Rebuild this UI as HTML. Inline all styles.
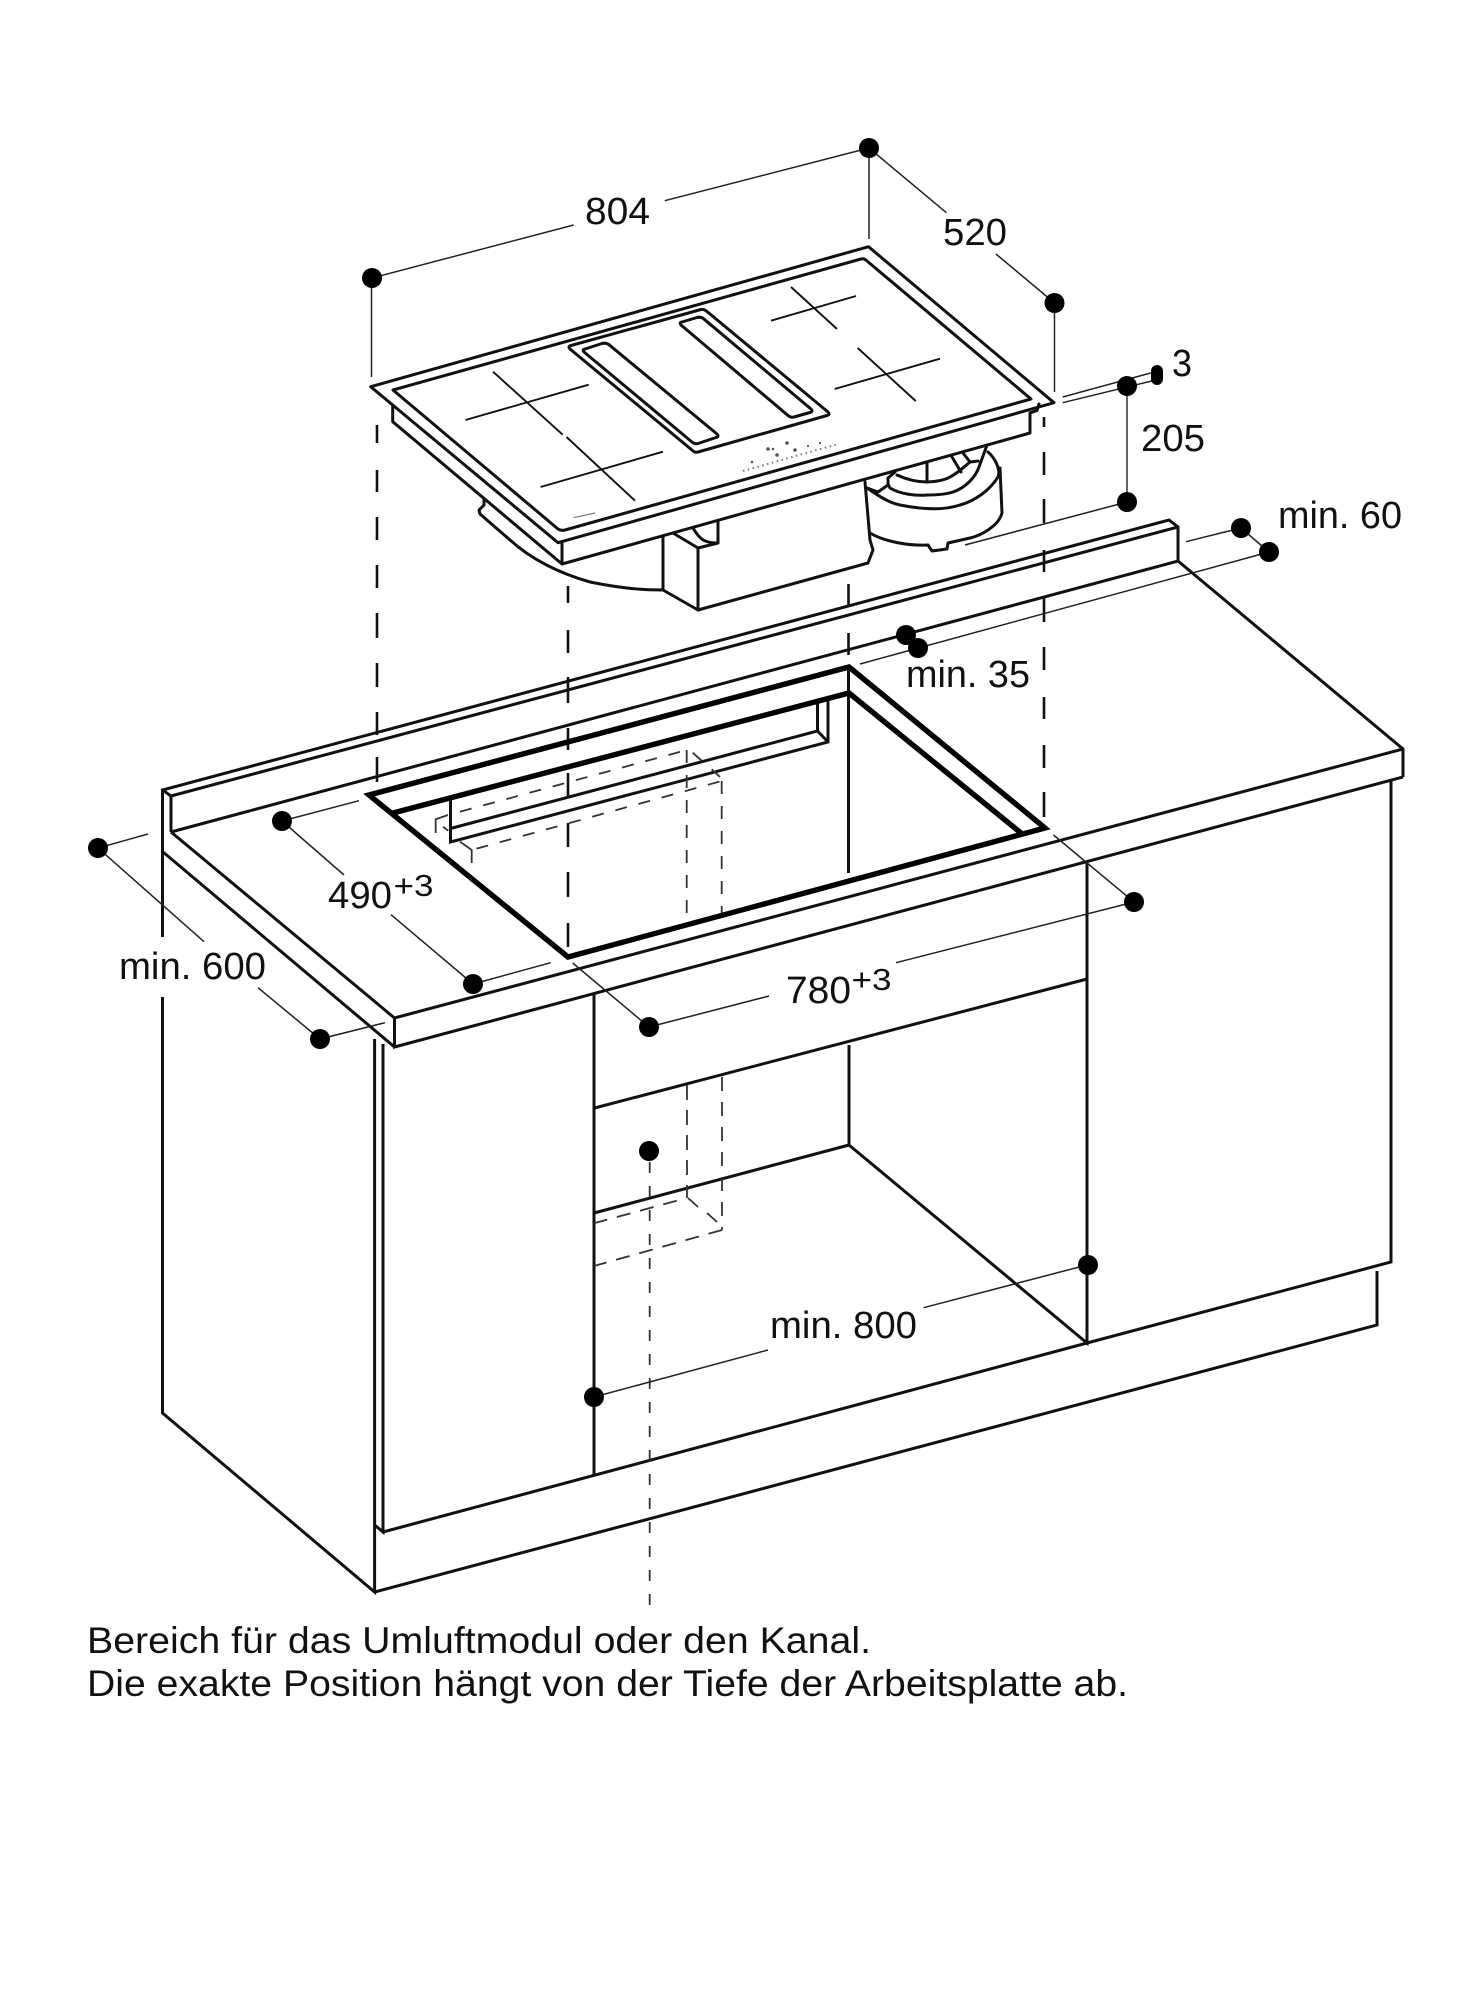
<!DOCTYPE html>
<html lang="de">
<head>
<meta charset="utf-8">
<title>Einbauzeichnung</title>
<style>
html,body{margin:0;padding:0;background:#fff;}
svg{display:block;}
text{font-family:"Liberation Sans",sans-serif;fill:#111;}
</style>
</head>
<body>
<svg xmlns="http://www.w3.org/2000/svg" width="1464" height="2000" viewBox="0 0 1464 2000">
<rect width="1464" height="2000" fill="#fff"/>

<!-- long dashed alignment lines -->
<g fill="none" stroke="#111" stroke-width="2.6">
<path d="M377 425V443M377 470V492M377 517V540M377 565V588M377 613V638M377 663V687M377 712V735M377 757V782"/>
<path d="M568 586V603M568 630V653M568 677V703M568 728V750M568 773V798M568 823V847M568 872V897M568 923V947"/>
<path d="M848.5 584V607M848.5 633V655"/>
<path d="M1044 417V427M1044 452V475M1044 499V523M1044 550V572M1044 597V622M1044 647V670M1044 697V719M1044 745V768M1044 792V817"/>
</g>

<!-- countertop and cabinets -->
<g fill="none" stroke="#111" stroke-width="3" stroke-linejoin="miter">
<path d="M162.5 937V790L1169 520L1178 527V561"/>
<path d="M162.5 790L171 796V832M171 796L1178 527"/>
<path d="M171 832L1178 561L1403 749V777"/>
<path d="M171 832L394.5 1018L1403 749"/>
<path d="M394.5 1018V1047L1403 777"/>
<path d="M163 852L394.5 1047"/>
<path d="M162.5 997V1413L374.6 1592V1039"/>
<path d="M374.6 1525L383 1532V1044"/>
<path d="M383 1532L1087 1343L1391 1262V780"/>
<path d="M374.6 1592L1377 1325V1271"/>
<path d="M594 993V1475"/>
<path d="M1087 862V1343L849 1145V1045"/>
<path d="M594.5 1108L1087 979"/>
<path d="M594 1213L849 1145"/>
<path d="M848.5 667V873"/>
<path d="M450.5 800V842L828 742V700M450.5 828.5L817.5 731V703M817.5 731L828 742"/>
</g>

<!-- cutout -->
<g fill="none" stroke="#000" stroke-width="5.4" stroke-linejoin="miter">
<path d="M369 795L849 667L1045 828L568 957Z"/>
<path d="M393 813L849 693L1021 833"/>
</g>

<!-- thin dashed module area -->
<g fill="none" stroke="#333" stroke-width="1.8">
<path d="M460 811.7L686.7 750" stroke-dasharray="12 12"/>
<path d="M471.7 850L721.7 781" stroke-dasharray="12 12" stroke-dashoffset="-5"/>
<path d="M686.7 750V923" stroke-dasharray="13 12"/>
<path d="M721.7 781V913" stroke-dasharray="13 12"/>
<path d="M435.7 833V819.3L448 815"/>
<path d="M443 826.7L448.3 830.7M460 841.7L471.7 850V863"/>
<path d="M692.7 752.7L701.7 760.7M711.7 769.3L720 777"/>
<path d="M687 1085V1198" stroke-dasharray="15 10"/>
<path d="M722 1077V1230H722" stroke-dasharray="14 11"/>
<path d="M688 1198L698 1207M707 1213L717 1222"/>
<path d="M722 1230L594 1266" stroke-dasharray="14 10"/>
<path d="M676.7 1200.7L594 1223.3" stroke-dasharray="14 10"/>
<path d="M649.7 1162V1608" stroke-dasharray="11 13"/>
</g>

<!-- hob -->
<g fill="none" stroke="#111" stroke-width="3" stroke-linejoin="round" stroke-linecap="round">
<path d="M868.5 246.7L1054 402.7L558 542.7L370.7 386.7Z"/>
<path d="M861 259Q864 258 867 261L1031 399L565 530Q561 531 558 529L393 390Z"/>
<path d="M707 311.5L828 412Q830.5 414.5 827 415.5L698 452Q695 453 692.5 450.5L570 349Q567.5 346.5 571 345.5L701 309.5Q704 309 707 311.5Z"/>
<path d="M609 344.7L717 434Q719.5 436.5 716 437.5L698 443.5Q695 444.5 692 442L584 352Q582 349.5 585 349L602 343.5Q606 342.5 609 344.7Z"/>
<path d="M703.5 318.7L811 409Q813.5 411.5 810 412.5L794 417Q791 418 788 415.5L681 325Q679 322.5 682 322L697 317.5Q701 316.5 703.5 318.7Z"/>
<path d="M392.7 407V421.7L562 564V543M562 564L1030 433V413"/>
<path d="M1030 413L1037 410.5L1039 404"/>
<path d="M484 499V505L479 510L480 514L510 540C530 558 555 572 590 582C620 588 640 590 663 590"/>
<path d="M663 537V590L698 610V548L673 533"/>
<path d="M698 548L718 543V522M693 528C700 540 705 543 718 543"/>
<path d="M698 610L868 563L873 550L870 540L865 482"/>
<path d="M867 488C880 497 890 503 900 505C925 510 945 510 960 505C975 501 990 490 998 477C1001 470 995 458 988 452"/>
<path d="M1000 468L1002 513C1000 520 995 525 992 527C985 533 975 537 970 538L948 543L947 549L932 551L928 545C910 546 885 542 870 533"/>
<path d="M867 488L878 492L888 485V478L895 472"/>
<path d="M888 484L890 488C900 494 915 496 927 495C940 495 947 494 953 492C965 488 975 478 979 467L987 445"/>
<path d="M897 475C910 481 920 482 927 482C935 482 945 480 950 477C958 473 965 466 970 462L978 461"/>
<path d="M927 463V482M952 457L961 472M963 453L970 462"/>
</g>
<g fill="none" stroke="#111" stroke-width="1.9">
<path d="M791 287L837 329M771 320.7L856 296"/>
<path d="M857.7 348L915.7 401M834.6 389L940 358.7"/>
<path d="M493 371.7L562.7 434.7M566.5 437L635 500.7M465.5 420L588.7 384.7"/>
<path d="M540.6 487L663 451.7"/>
</g>
<path d="M573.6 517.7L595 513" stroke="#777" stroke-width="1.2" fill="none"/>
<path d="M743 471L838 444" stroke="#777" stroke-width="2" stroke-dasharray="1.5 3.5" fill="none"/>
<g fill="#555">
<circle cx="768" cy="449" r="1.8"/><circle cx="773" cy="449" r="1.3"/><circle cx="787" cy="443" r="1.8"/>
<circle cx="795" cy="450" r="1.8"/><circle cx="777" cy="455" r="1.8"/><circle cx="752" cy="462" r="1.3"/>
<circle cx="808" cy="446" r="1.1"/><circle cx="820" cy="443" r="1.1"/>
</g>

<!-- dimension lines -->
<g fill="none" stroke="#222" stroke-width="1.5">
<path d="M372 278L573.6 225M664.7 200.7L869 148"/>
<path d="M371.5 278V377M869 148V239"/>
<path d="M869 148L946.4 212.7M996 254L1054.5 303"/>
<path d="M1054.5 303V392"/>
<path d="M1062.7 397L1151.7 372.7M1062.7 402.7L1151.7 381"/>
<path d="M1127 386V502" stroke="#555" stroke-width="1.8"/>
<path d="M965 545L1127 502"/>
<path d="M1186 541.7L1241 528L1269 552"/>
<path d="M860 664L1269 552"/>
<path d="M906 635L920 648"/>
<path d="M359 800.7L282 821L344 875M391 914.7L473 984L550.7 962.7"/>
<path d="M148 834L98 848L204 941.7M258 987.7L320 1039L385 1022.7"/>
<path d="M572.7 963L649 1027L769 996M896 962.7L1134 902L1053.5 835"/>
<path d="M594 1397L768 1350M923.6 1307.7L1087 1265"/>
</g>

<!-- dots -->
<g fill="#000">
<circle cx="372" cy="278" r="10"/><circle cx="869" cy="148" r="10"/><circle cx="1054.5" cy="303" r="10"/>
<rect x="1151" y="365" width="12" height="20" rx="6"/>
<circle cx="1127" cy="386" r="10"/><circle cx="1127" cy="502" r="10"/>
<circle cx="1241" cy="528" r="10"/><circle cx="1269" cy="552" r="10"/>
<circle cx="906" cy="635" r="10"/><circle cx="918" cy="648" r="10"/>
<circle cx="282" cy="821" r="10"/><circle cx="473" cy="984" r="10"/>
<circle cx="98" cy="848" r="10"/><circle cx="320" cy="1039" r="10"/>
<circle cx="649" cy="1027" r="10"/><circle cx="1134" cy="902" r="10"/>
<circle cx="649" cy="1151" r="10"/>
<circle cx="1088" cy="1265" r="10"/><circle cx="594" cy="1397" r="10"/>
</g>

<!-- labels -->
<g font-size="38">
<text x="585" y="224" textLength="65" lengthAdjust="spacingAndGlyphs">804</text>
<text x="943" y="245" textLength="64" lengthAdjust="spacingAndGlyphs">520</text>
<text x="1172" y="376" textLength="20" lengthAdjust="spacingAndGlyphs">3</text>
<text x="1141" y="451" textLength="64" lengthAdjust="spacingAndGlyphs">205</text>
<text x="1278" y="528" textLength="124" lengthAdjust="spacingAndGlyphs">min. 60</text>
<text x="906" y="687" textLength="124" lengthAdjust="spacingAndGlyphs">min. 35</text>
<text x="328" y="908" textLength="64" lengthAdjust="spacingAndGlyphs">490</text>
<text x="393.5" y="896" font-size="31" textLength="40" lengthAdjust="spacingAndGlyphs">+3</text>
<text x="119" y="979" textLength="147" lengthAdjust="spacingAndGlyphs">min. 600</text>
<text x="786" y="1003" textLength="65" lengthAdjust="spacingAndGlyphs">780</text>
<text x="851.5" y="990" font-size="31" textLength="40" lengthAdjust="spacingAndGlyphs">+3</text>
<text x="770" y="1338" textLength="147" lengthAdjust="spacingAndGlyphs">min. 800</text>
<text x="87" y="1653" font-size="37" textLength="784" lengthAdjust="spacingAndGlyphs">Bereich für das Umluftmodul oder den Kanal.</text>
<text x="87" y="1696" font-size="37" textLength="1041" lengthAdjust="spacingAndGlyphs">Die exakte Position hängt von der Tiefe der Arbeitsplatte ab.</text>
</g>
</svg>
</body>
</html>
